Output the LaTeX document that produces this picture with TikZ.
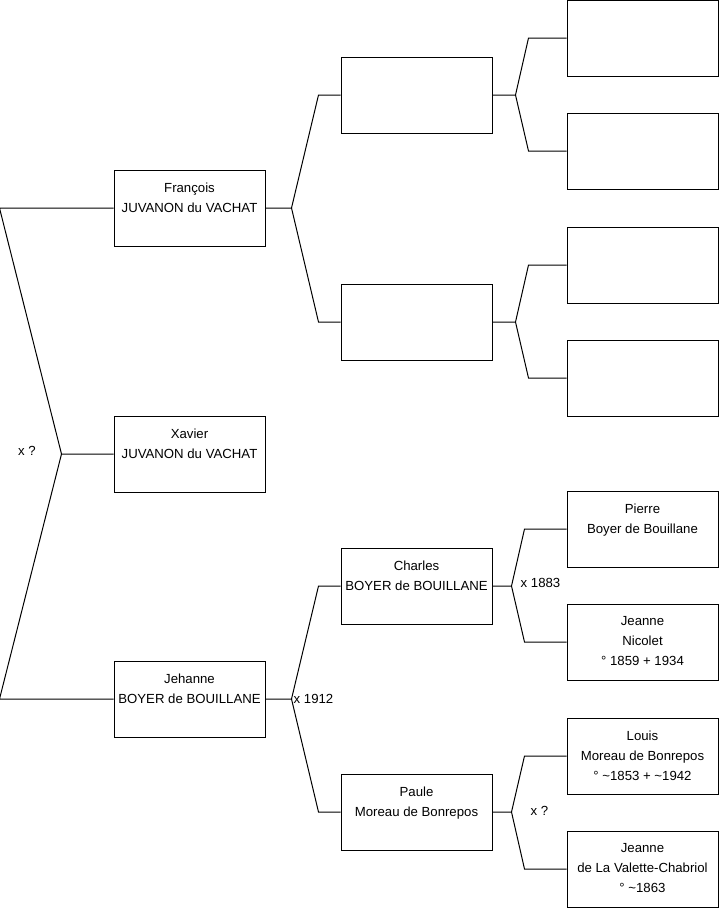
\documentclass[tikz,border=0pt]{standalone}
\usepackage{fontspec}
\setmainfont{Liberation Sans}
\usepackage{tikz}
\usetikzlibrary{positioning, calc}
\tikzset{
	personbox/.style={draw=black, line width=1pt, minimum width=151pt, minimum height=76pt, inner sep=0pt}
}
\tikzset{
	nametext/.style={anchor=north, align=center, inner sep=0pt, yshift=-13pt, font=\fontsize{13.2}{20}\selectfont}
}
\tikzset{
	marriagetext/.style={inner sep=0pt, font=\fontsize{13.2}{20}\selectfont}
}

\begin{document}
\begin{tikzpicture}[x=1pt, y=-1pt]

      \useasboundingbox (0,0) rectangle (719,908);

      \tikzset{
        link/.style={draw=black, line width=1pt}
      }

      % generation 1
      \node[personbox] (francois) at (189.5,208) {};
      \node[personbox] (xavier) at (189.5,454) {};
      \node[personbox] (jehanne) at (189.5,699) {};

      % generation 2
      \node[personbox] (pa) at (416.5,95) {};
      \node[personbox] (pb) at (416.5,322) {};
      \node[personbox] (charles) at (416.5,586) {};
      \node[personbox] (paule) at (416.5,812) {};

      % generation 3
      \node[personbox] (paa) at (642.5,38) {};
      \node[personbox] (pab) at (642.5,151) {};
      \node[personbox] (pba) at (642.5,265) {};
      \node[personbox] (pbb) at (642.5,378) {};
      \node[personbox] (pierre) at (642.5,529) {};
      \node[personbox] (jeanneN) at (642.5,642) {};
      \node[personbox] (louis) at (642.5,756) {};
      \node[personbox] (jeanneV) at (642.5,869) {};

      \node[nametext] at (francois.north) {François\\JUVANON du VACHAT};
      \node[nametext] at (xavier.north) {Xavier\\JUVANON du VACHAT};
      \node[nametext] at (jehanne.north) {Jehanne\\BOYER de BOUILLANE};
      \node[nametext] at (charles.north) {Charles\\BOYER de BOUILLANE};
      \node[nametext] at (paule.north) {Paule\\Moreau de Bonrepos};
      \node[nametext] at (pierre.north) {Pierre\\Boyer de Bouillane};
      \node[nametext] at (jeanneN.north) {Jeanne\\Nicolet\\° 1859 + 1934};
      \node[nametext] at (louis.north) {Louis\\Moreau de Bonrepos\\° \textasciitilde1853 + \textasciitilde1942};
      \node[nametext] at (jeanneV.north) {Jeanne\\de La Valette-Chabriol\\° \textasciitilde1863};

      \draw[link] (xavier.west) -- ++(-52,0) coordinate (fx) -- ([xshift=-114pt]francois.west) -- (francois.west);
      \draw[link] (fx) -- ([xshift=-114pt]jehanne.west) -- (jehanne.west);

      \draw[link] (francois.east) -- ++(26,0) coordinate (ff) -- ([xshift=-22pt]pa.west) -- (pa.west);
      \draw[link] (ff) -- ([xshift=-22pt]pb.west) -- (pb.west);
      \draw[link] (jehanne.east) -- ++(26,0) coordinate (fj) -- ([xshift=-22pt]charles.west) -- (charles.west);
      \draw[link] (fj) -- ([xshift=-22pt]paule.west) -- (paule.west);

      \draw[link] (pa.east) -- ++(23,0) coordinate (fpa) -- ([xshift=-38pt]paa.west) -- (paa.west);
      \draw[link] (fpa) -- ([xshift=-38pt]pab.west) -- (pab.west);
      \draw[link] (pb.east) -- ++(23,0) coordinate (fpb) -- ([xshift=-38pt]pba.west) -- (pba.west);
      \draw[link] (fpb) -- ([xshift=-38pt]pbb.west) -- (pbb.west);
      \draw[link] (charles.east) -- ++(19,0) coordinate (fc) -- ([xshift=-42pt]pierre.west) -- (pierre.west);
      \draw[link] (fc) -- ([xshift=-42pt]jeanneN.west) -- (jeanneN.west);
      \draw[link] (paule.east) -- ++(19,0) coordinate (fp) -- ([xshift=-42pt]louis.west) -- (louis.west);
      \draw[link] (fp) -- ([xshift=-42pt]jeanneV.west) -- (jeanneV.west);

      \node[marriagetext] (mx) at (27,451) {x ?};
      \node[marriagetext, anchor=west] (mj) at ([xshift=2pt]fj) {x 1912};
      \node[marriagetext, anchor=west] (mc) at ([xshift=9pt,yshift=3pt]fc) {x 1883};
      \node[marriagetext] (mp) at ([xshift=28pt,yshift=1pt]fp) {x ?};
    \end{tikzpicture}
\end{document}
